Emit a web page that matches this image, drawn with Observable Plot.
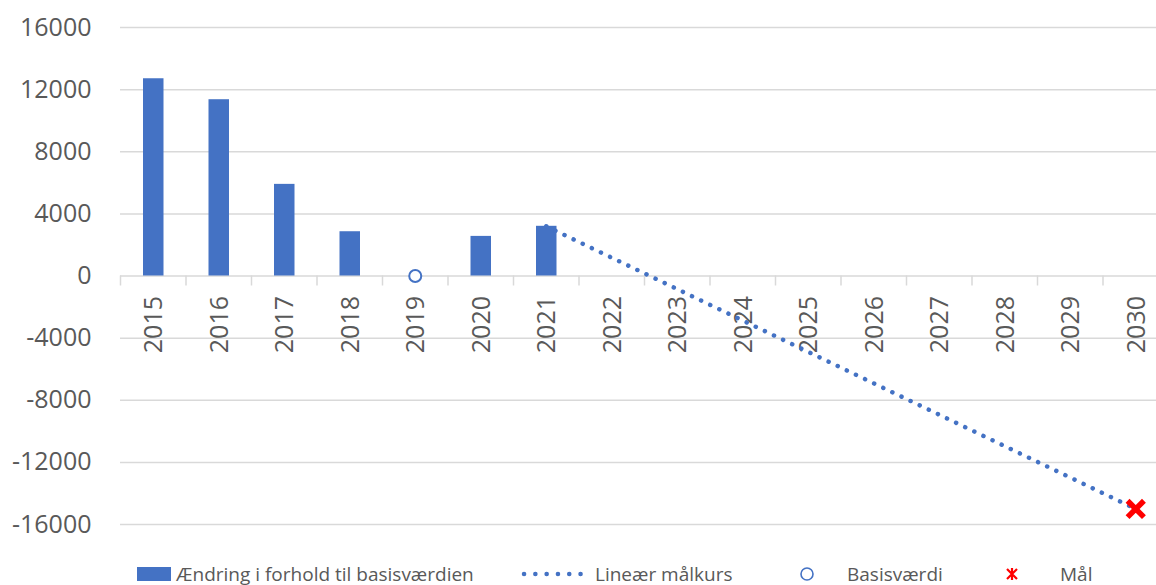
<!DOCTYPE html>
<html>
<head>
<meta charset="utf-8">
<script src="https://cdn.jsdelivr.net/npm/d3@7"></script>
<script src="https://cdn.jsdelivr.net/npm/@observablehq/plot@0.6"></script>
<style>
  html, body { margin: 0; padding: 0; background: #fff; overflow: hidden; }
  body { width: 1156px; height: 585px; font-family: "Open Sans", "Liberation Sans", sans-serif; }
  #legend { position: relative; width: 1156px; height: 25px; color: #595959; font-size: 19px; }
  #legend .item { position: absolute; top: 1px; height: 25px; display: flex; align-items: center; white-space: nowrap; }
</style>
</head>
<body>
<div id="chart"></div>
<div id="legend"></div>
<script>
const years = ["2015","2016","2017","2018","2019","2020","2021","2022","2023","2024","2025","2026","2027","2028","2029","2030"];
const barYears = ["2015","2016","2017","2018","2020","2021"];
const barValues = [12700, 11350, 5900, 2850, 2550, 3200];
const lineYears = ["2021","2030"];
const lineValues = [3200, -15000];
const baseYear = ["2019"];
const baseValue = [0];
const goalYear = ["2030"];
const goalValue = [-15000];
const yTicks = [16000, 12000, 8000, 4000, 0, -4000, -8000, -12000, -16000];
const legendLabels = ["Ændring i forhold til basisværdien", "Lineær målkurs", "Basisværdi", "Mål"];

const blue = "#4472C4";
const bars = barYears.map((y, i) => ({year: y, value: barValues[i]}));
const line = lineYears.map((y, i) => ({year: y, value: lineValues[i]}));
const base = baseYear.map((y, i) => ({year: y, value: baseValue[i]}));
const goal = goalYear.map((y, i) => ({year: y, value: goalValue[i]}));

const H = 560;
const chart = Plot.plot({
  width: 1156,
  height: H,
  marginTop: 27,
  marginBottom: H - 524,
  marginLeft: 120,
  marginRight: 0,
  style: {fontFamily: "'Open Sans', 'Liberation Sans', sans-serif", background: "#fff"},
  x: {type: "band", domain: years, range: [120, 1168], padding: 0, round: false, axis: null},
  y: {domain: [-16000, 16000], axis: null},
  marks: [
    Plot.ruleY(yTicks, {stroke: "#d9d9d9", strokeWidth: 1.5}),
    Plot.ruleX(years, {x: d => d, y1: 0, y2: 0, insetBottom: -10, dx: -32.75, stroke: "#d9d9d9", strokeWidth: 1.5}),
    Plot.barY(bars, {x: "year", y: "value", fill: blue, insetLeft: 23, insetRight: 22}),
    Plot.text(yTicks, {y: d => d, frameAnchor: "left", textAnchor: "end", dx: -29, text: d => String(d), fontSize: 25, fill: "#595959"}),
    Plot.text(years, {x: d => d, y: 0, text: d => d, rotate: -90, textAnchor: "end", dy: 20, dx: 1, fontSize: 25, fill: "#595959"}),
    Plot.line(line, {x: "year", y: "value", stroke: blue, strokeWidth: 4.5, strokeDasharray: "0.1 10", strokeLinecap: "round"}),
    Plot.dot(base, {x: "year", y: "value", r: 6, stroke: blue, strokeWidth: 2, fill: "#fff"}),
    Plot.dot(goal, {x: "year", y: "value", symbol: "times", r: 7.5, stroke: "#ff0000", strokeWidth: 5.5, fill: "none"})
  ]
});
document.getElementById("chart").appendChild(chart);

const legend = document.getElementById("legend");
const swatches = [
  `<svg width="34" height="14"><rect x="0" y="0" width="34" height="14" fill="${blue}"/></svg>`,
  `<svg width="64" height="14"><line x1="3" y1="7" x2="60" y2="7" stroke="${blue}" stroke-width="4.5" stroke-dasharray="0.1 11.2" stroke-linecap="round"/></svg>`,
  `<svg width="16" height="16"><circle cx="8" cy="8" r="6" fill="#fff" stroke="${blue}" stroke-width="1.6"/></svg>`,
  `<svg width="16" height="16"><path d="M3,3L13,13M13,3L3,13M8,2L8,14" stroke="#ff0000" stroke-width="2.2"/></svg>`
];
const swatchX = [137, 521, 799, 1004];
const textX = [176, 595, 847, 1060];
legendLabels.forEach((lab, i) => {
  const s = document.createElement("div");
  s.className = "item";
  s.style.left = swatchX[i] + "px";
  s.innerHTML = swatches[i];
  legend.appendChild(s);
  const t = document.createElement("div");
  t.className = "item";
  t.style.left = textX[i] + "px";
  t.textContent = lab;
  legend.appendChild(t);
});
</script>
</body>
</html>
